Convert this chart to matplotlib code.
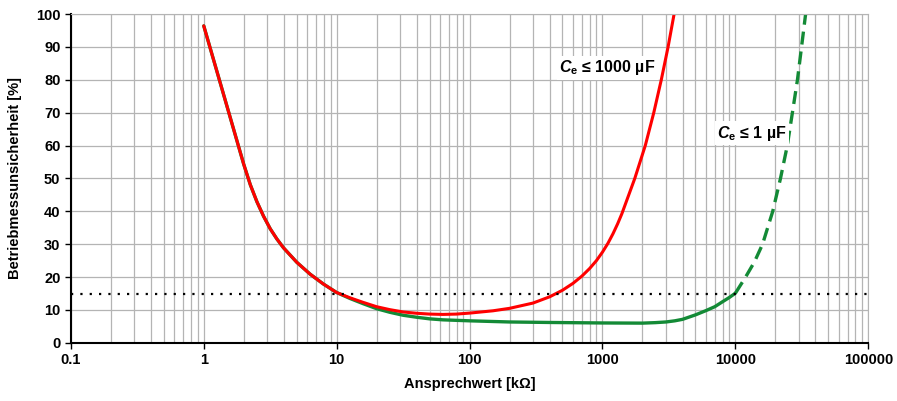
import matplotlib.pyplot as plt
from matplotlib.ticker import FixedLocator, NullFormatter, LogLocator

plt.rcParams['font.family'] = ['Liberation Sans', 'DejaVu Sans']
plt.rcParams['mathtext.fontset'] = 'custom'
plt.rcParams['mathtext.it'] = 'Liberation Sans:italic:bold'
plt.rcParams['mathtext.rm'] = 'Liberation Sans:bold'
plt.rcParams['mathtext.bf'] = 'Liberation Sans:bold'

# shared left branch (both curves lie on top of each other up to ~10 kOhm)
left_x = [1, 1.259, 1.585, 1.995, 2.239, 2.512, 2.818, 3.162, 3.548, 3.981, 5.012,
          6.31, 7.94, 10]
left_y = [96.4, 82.4, 68.4, 54.4, 48.1, 42.9, 38.5, 34.7, 31.6, 28.9, 24.5,
          20.9, 17.9, 15.3]

# red curve, Ce <= 1000 uF
red_x = left_x + [12.59, 15.85, 19.95, 25.1, 31.6, 39.8, 50.1, 63, 79.4, 100, 150, 200,
                  300, 400, 500, 600, 700, 800, 900, 1000, 1100, 1200, 1300, 1397,
                  1750, 2099, 2432, 2770, 3116, 3458]
red_y = left_y + [13.7, 12.3, 11.0, 10.1, 9.4, 9.0, 8.75, 8.65, 8.75, 9.05, 9.75, 10.5,
                  12.1, 14.0, 16.0, 18.1, 20.3, 22.6, 25.0, 27.6, 30.3, 33.2, 36.2, 39.2,
                  50, 60, 70, 80, 90, 100]

# green curve, Ce <= 1 uF (solid part)
green_x = left_x + [12.59, 15.85, 19.95, 25.1, 31.6, 39.8, 50.1, 63, 79.4, 100, 200,
                    400, 1000, 2000, 2500, 3000, 3500, 4000, 5000, 6000, 7000, 8000,
                    9000, 10000]
green_y = left_y + [13.5, 11.9, 10.4, 9.3, 8.4, 7.8, 7.3, 7.0, 6.85, 6.7, 6.35, 6.2,
                    6.05, 6.0, 6.15, 6.35, 6.7, 7.15, 8.5, 9.8, 11.0, 12.5, 13.8, 15.1]

# green curve, dashed continuation
green_dash_x = [10000, 11930, 13900, 16010, 19100, 21840, 24580, 26850, 29310, 31460, 33760]
green_dash_y = [15.1, 20, 24.6, 30, 40, 50, 60, 70, 80, 90, 100]

limit_y = 15

fig = plt.figure(figsize=(8.97, 4.01), dpi=100)
ax = fig.add_axes([0.079, 0.145, 0.889, 0.82])

ax.plot(green_x, green_y, color="#138a36", lw=2.4, solid_capstyle="round",
        solid_joinstyle="round")
ax.plot(green_dash_x, green_dash_y, color="#138a36", lw=2.4, dashes=(3.9, 2.1))
ax.plot(red_x, red_y, color="#ff0000", lw=2.2, solid_capstyle="round",
        solid_joinstyle="round")
ax.axhline(limit_y, color="black", lw=1.6, linestyle=(0, (1, 3.2)))

ax.set_xscale("log")
ax.set_xlim(0.1, 100000)
ax.set_ylim(0, 100)
ax.xaxis.set_major_locator(FixedLocator([0.1, 1, 10, 100, 1000, 10000, 100000]))
ax.set_xticklabels(["0.1", "1", "10", "100", "1000", "10000", "100000"])
ax.xaxis.set_minor_locator(LogLocator(base=10, subs=range(2, 10), numticks=20))
ax.xaxis.set_minor_formatter(NullFormatter())
ax.set_yticks(range(0, 101, 10))

ax.grid(True, which="both", color="#b4b4b4", lw=0.9)
ax.set_axisbelow(True)
ax.tick_params(which="minor", length=0)
ax.tick_params(which="major", length=4, width=1, direction="out", labelsize=10.5)
for lbl in ax.get_xticklabels() + ax.get_yticklabels():
    lbl.set_fontweight("bold")

for side in ["top", "right"]:
    ax.spines[side].set_color("#b4b4b4")
for side in ["left", "bottom"]:
    ax.spines[side].set_color("black")
    ax.spines[side].set_linewidth(1.5)

ax.set_xlabel("Ansprechwert [kΩ]", fontsize=10.5, fontweight="bold", labelpad=7)
ax.set_ylabel("Betriebmessunsicherheit [%]", fontsize=10.5, fontweight="bold", labelpad=10)

box = dict(facecolor="white", edgecolor="none", pad=1.5)
ax.text(1090, 83.6, r"$\mathit{C}_{\mathrm{e}}$ ≤ 1000 µF", fontsize=11.5, fontweight="bold",
        ha="center", va="center", bbox=box)
ax.text(13400, 63.8, r"$\mathit{C}_{\mathrm{e}}$ ≤ 1 µF", fontsize=11.5, fontweight="bold",
        ha="center", va="center", bbox=box)

fig.savefig("out.png", dpi=100)
